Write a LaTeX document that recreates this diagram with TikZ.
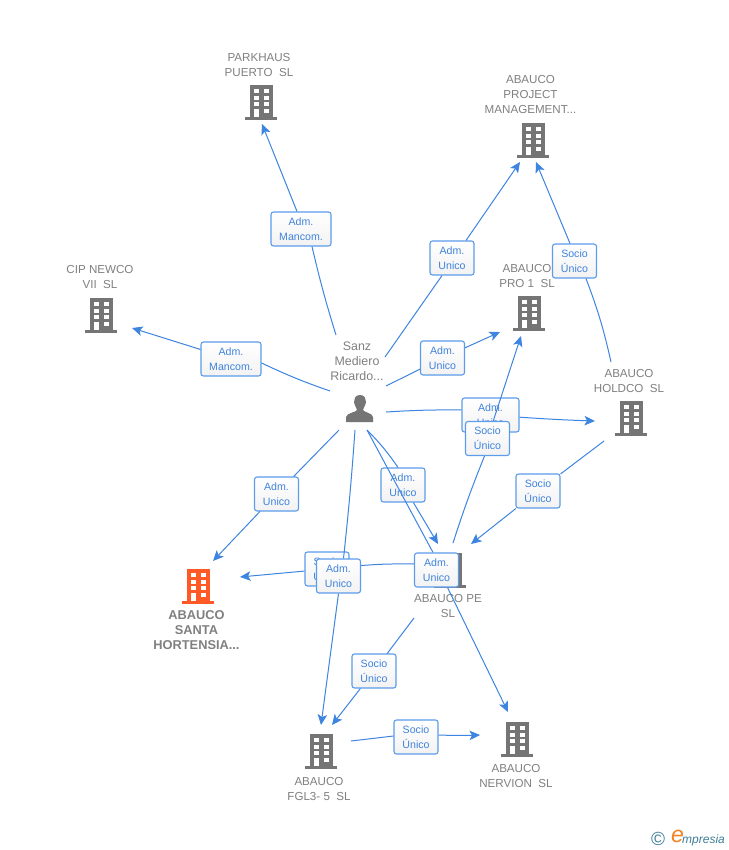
\documentclass[tikz,border=0pt]{standalone}
\usepackage{fontspec}
\setmainfont{Liberation Sans}
\usetikzlibrary{arrows.meta,shadings}
\pgfdeclarelayer{front}
\pgfsetlayers{main,front}
\definecolor{linkblue}{HTML}{3D85E0}
\definecolor{boxedge}{HTML}{5C9CEA}
\definecolor{boxtext}{HTML}{3F83DC}
\definecolor{iconGray}{HTML}{757575}
\definecolor{textGray}{HTML}{808080}
\definecolor{hot}{HTML}{FF5A26}
\definecolor{logoTeal}{HTML}{3F7F97}
\definecolor{logoOrange}{HTML}{F58220}
\tikzset{
  x=1pt,y=-1pt,
  conn/.style={draw=linkblue,line width=1pt},
  arr/.style={conn,-{Stealth[length=10.5pt,width=9.5pt,inset=2.5pt]}},
  tag/.style={draw=boxedge,line width=1.1pt,rounded corners=2.5pt,top color=white,bottom color=black!5,
    minimum height=34pt,inner sep=0pt,align=center,text=boxtext,
    font=\fontsize{10.6}{15}\selectfont},
  tagU/.style={tag,minimum width=44pt},
  tagM/.style={tag,minimum width=60pt},
  lbl/.style={align=center,text=textGray,inner sep=0pt,font=\fontsize{11.6}{15}\selectfont},
  hublbl/.style={lbl,font=\fontsize{12.4}{15}\selectfont},
  hotlbl/.style={lbl,font=\fontsize{12.8}{15}\selectfont\bfseries},
  slot/.style={minimum width=32pt,minimum height=35pt,inner sep=0pt},
  pics/bldg/.style={code={
    \fill[#1] (-11.5,-17) rectangle (11.5,15);
    \fill[#1] (-16,15) rectangle (16,18);
    \foreach \cx in {-7.5,2.5}{\foreach \cy in {-13,-6.3,0.4}{
      \fill[white] (\cx,\cy) rectangle ++(5,4);}}
    \fill[white] (2.5,7) rectangle ++(5,4);
    \fill[white] (-7.5,7) rectangle (-2.5,15);
  }},
}
\newcommand{\bld}[4]{\node[slot] (#1) at (#2,#3) {}; \pic at (#2,#3) {bldg=#4};}
\begin{document}
\begin{tikzpicture}
\useasboundingbox[fill=white] (0,0) rectangle (728,850);
% buildings
\bld{parkhaus}{261}{102}{iconGray}
\bld{project}{533}{140}{iconGray}
\bld{pro}{529}{313}{iconGray}
\bld{cip}{101}{315}{iconGray}
\bld{holdco}{631}{418}{iconGray}
\bld{santa}{198}{586}{hot}
\bld{pe}{450}{570}{iconGray}
\bld{fgl}{321}{751}{iconGray}
\bld{nervion}{517}{739}{iconGray}
% person
\node[minimum width=30pt,minimum height=30pt,inner sep=0pt] (hub) at (360,408) {};
\fill[iconGray] (360,395) .. controls (355,395) and (354,399) .. (354,402)
  .. controls (354.5,406) and (357,408) .. (357,410)
  .. controls (356,412.5) and (347,412.5) .. (346,417) -- (346,422) -- (373,422) -- (373,417)
  .. controls (372,412.5) and (364,412.5) .. (363,410)
  .. controls (363,408) and (365.5,406) .. (366,402)
  .. controls (366,399) and (365,395) .. (360,395) -- cycle;
% names
\node[lbl] (nparkhaus) at (259,65.2) {PARKHAUS\\PUERTO\ \ SL};
\node[lbl] (nproject) at (530.5,94.7) {ABAUCO\\PROJECT\\MANAGEMENT...};
\node[lbl] (npro) at (527,276.2) {ABAUCO\\PRO 1\ \ SL};
\node[lbl] (ncip) at (100,277.2) {CIP NEWCO\\VII\ \ SL};
\node[lbl] (nholdco) at (629,381.2) {ABAUCO\\HOLDCO\ \ SL};
\node[hotlbl] (nsanta) at (196.5,629.7) {ABAUCO\\SANTA\\HORTENSIA...};
\node[lbl] (npe) at (448,606.2) {ABAUCO PE\\SL};
\node[lbl] (nfgl) at (319,789.2) {ABAUCO\\FGL3- 5\ \ SL};
\node[lbl] (nnervion) at (516,776.2) {ABAUCO\\NERVION\ \ SL};
\node[hublbl] (nhub) at (357,361.7) {Sanz\\Mediero\\Ricardo...};
% lower tags
\node[tagM] (tParkhaus) at (301,229) {Adm.\\Mancom.};
\node[tagM] (tCip) at (231,359) {Adm.\\Mancom.};
\node[tagU] (tProject) at (452,258) {Adm.\\Unico};
\node[tagU] (tPro) at (442.5,358) {Adm.\\Unico};
\node[tagM,minimum width=57pt] (tHoldco) at (490.5,415) {Adm.\\Unico};
\node[tagU] (tSanta) at (276.5,494) {Adm.\\Unico};
\node[tagU] (tPe) at (403,485) {Adm.\\Unico};
\node[tagU] (tSantaS) at (327,569) {Socio\\Único};
\node[tagU] (tProjS) at (574.5,261) {Socio\\Único};
\node[tagU] (tPeS) at (538,491) {Socio\\Único};
\node[tagU] (tFglS) at (374,671) {Socio\\Único};
\node[tagU] (tNerS) at (416,737) {Socio\\Único};
\begin{pgfonlayer}{front}
\node[tagU] (tProS) at (487.5,438.5) {Socio\\Único};
\node[tagU] (tFgl) at (338.5,576) {Adm.\\Unico};
\node[tagU] (tNer) at (436.5,570) {Adm.\\Unico};
\end{pgfonlayer}
% free ends
\coordinate (a1) at (336,335); \coordinate (b1) at (262,124);
\coordinate (a2) at (330,391); \coordinate (b2) at (132,328);
\coordinate (a3) at (385,357); \coordinate (b3) at (520,162);
\coordinate (a4) at (386,386); \coordinate (b4) at (500,332);
\coordinate (a5) at (386,412); \coordinate (b5) at (595,421);
\coordinate (a6) at (339,430); \coordinate (b6) at (213,561);
\coordinate (a7) at (355,430); \coordinate (b7) at (321,725);
\coordinate (a8) at (367,430); \coordinate (b8) at (438,544);
\coordinate (a9) at (367,430); \coordinate (b9) at (508,712);
\coordinate (c1) at (453,543); \coordinate (d1) at (521,336);
\coordinate (c2) at (611,362); \coordinate (d2) at (536,162);
\coordinate (c3) at (604,441); \coordinate (d3) at (471,544);
\coordinate (c4) at (414,618); \coordinate (d4) at (332,725);
\coordinate (c5) at (351,741); \coordinate (d5) at (480,735);
\coordinate (c6) at (415,564); \coordinate (d6) at (240,577);
% connectors
\draw[conn] (a1) to[bend left=2] ([xshift=11pt]tParkhaus.south); \draw[arr] ([xshift=-4pt]tParkhaus.north) -- (b1);
\draw[conn] (a2) to[bend left=3] ([yshift=-4pt]tCip.east); \draw[arr] (tCip) -- (b2);
\draw[conn] (a3) -- ([xshift=-10pt]tProject.south); \draw[arr] ([xshift=14pt]tProject.north) -- (b3);
\draw[conn] (a4) -- (tPro); \draw[arr] (tPro) -- (b4);
\draw[conn] (a5) to[bend left=2] ([yshift=5pt]tHoldco.west); \draw[arr] (tHoldco) to[bend right=1] (b5);
\draw[conn] (a6) -- (tSanta); \draw[arr] (tSanta) -- (b6);
\draw[conn] (a7) to[bend left=1] ([xshift=5pt]tFgl.north); \draw[arr] (tFgl.south) -- (b7);
\draw[conn] (a8) to[bend left=5] ([xshift=-5pt]tPe.north); \draw[arr] (tPe) -- (b8);
\draw[conn] (a9) -- ([xshift=-3.5pt]tNer.north); \draw[arr] ([xshift=11pt]tNer.south) -- (b9);
\draw[conn] (c1) to[bend left=2] ([xshift=-3pt]tProS.south); \draw[arr] (tProS) -- (d1);
\draw[conn] (c2) to[bend right=4] ([xshift=11.5pt]tProjS.south); \draw[arr] ([xshift=-4.5pt]tProjS.north) -- (d2);
\draw[conn] (c3) -- (tPeS); \draw[arr] (tPeS) -- (d3);
\draw[conn] (c4) -- (tFglS); \draw[arr] (tFglS) -- (d4);
\draw[conn] (c5) -- ([yshift=1pt]tNerS.west); \draw[arr] ([yshift=2pt]tNerS.east) to[bend right=2] (d5);
\draw[conn] (c6) to[bend right=3] (tSantaS); \draw[arr] (tSantaS) -- (d6);
% logo
\node[inner sep=0pt,text=logoTeal,font=\fontsize{19}{19}\selectfont] (logoc) at (658,839) {©};
\node[inner sep=0pt,text=logoOrange,font=\fontsize{23}{23}\selectfont\itshape] (logoe) at (677.5,836) {e};
\node[inner sep=0pt,anchor=west,text=logoTeal,font=\fontsize{12}{12}\selectfont\itshape] (logot) at (682,840) {mpresia};
\end{tikzpicture}
\end{document}
